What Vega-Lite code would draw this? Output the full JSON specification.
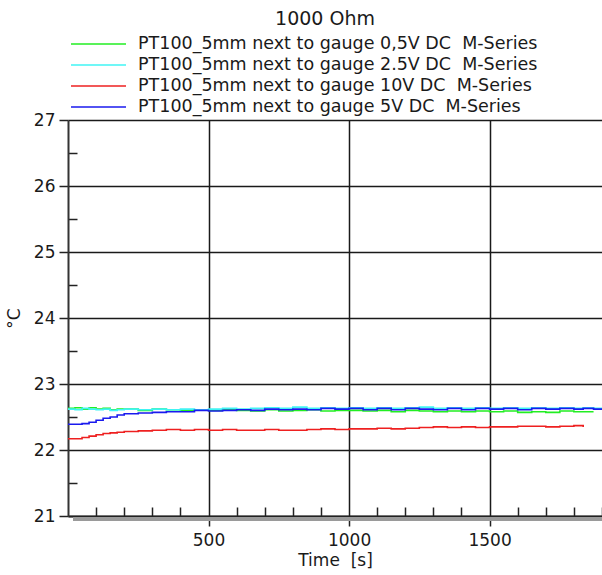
{
  "$schema": "https://vega.github.io/schema/vega-lite/v6.json",
  "width": 534,
  "height": 396,
  "autosize": "none",
  "padding": {"left": 68, "top": 120, "right": 0, "bottom": 59},
  "background": "white",
  "title": {"text": "1000 Ohm", "font": "DejaVu Sans", "fontSize": 19, "fontWeight": "normal", "color": "#1a1a1a", "anchor": "middle", "offset": 7, "dx": -10},
  "config": {
    "view": {"stroke": null},
    "font": "DejaVu Sans"
  },
  "data": {
    "values": [
      {"t": 0, "g": 22.63, "c": 22.62, "r": 22.17, "b": 22.39},
      {"t": 25, "g": 22.64, "c": 22.61, "r": 22.17, "b": 22.39},
      {"t": 50, "g": 22.62, "c": 22.63, "r": 22.19, "b": 22.40},
      {"t": 75, "g": 22.64, "c": 22.62, "r": 22.21, "b": 22.42},
      {"t": 100, "g": 22.62, "c": 22.61, "r": 22.23, "b": 22.45},
      {"t": 125, "g": 22.63, "c": 22.62, "r": 22.25, "b": 22.48},
      {"t": 150, "g": 22.61, "c": 22.60, "r": 22.26, "b": 22.50},
      {"t": 175, "g": 22.62, "c": 22.61, "r": 22.27, "b": 22.53},
      {"t": 200, "g": 22.62, "c": 22.62, "r": 22.28, "b": 22.55},
      {"t": 250, "g": 22.60, "c": 22.61, "r": 22.29, "b": 22.56},
      {"t": 300, "g": 22.62, "c": 22.62, "r": 22.30, "b": 22.57},
      {"t": 350, "g": 22.61, "c": 22.61, "r": 22.31, "b": 22.58},
      {"t": 400, "g": 22.60, "c": 22.62, "r": 22.30, "b": 22.58},
      {"t": 450, "g": 22.61, "c": 22.61, "r": 22.31, "b": 22.60},
      {"t": 500, "g": 22.60, "c": 22.62, "r": 22.30, "b": 22.59},
      {"t": 550, "g": 22.61, "c": 22.63, "r": 22.31, "b": 22.60},
      {"t": 600, "g": 22.60, "c": 22.62, "r": 22.30, "b": 22.61},
      {"t": 650, "g": 22.59, "c": 22.63, "r": 22.30, "b": 22.60},
      {"t": 700, "g": 22.61, "c": 22.64, "r": 22.31, "b": 22.62},
      {"t": 750, "g": 22.59, "c": 22.63, "r": 22.30, "b": 22.61},
      {"t": 800, "g": 22.60, "c": 22.65, "r": 22.30, "b": 22.62},
      {"t": 850, "g": 22.61, "c": 22.63, "r": 22.31, "b": 22.61},
      {"t": 900, "g": 22.59, "c": 22.64, "r": 22.32, "b": 22.63},
      {"t": 950, "g": 22.60, "c": 22.63, "r": 22.31, "b": 22.62},
      {"t": 1000, "g": 22.60, "c": 22.64, "r": 22.32, "b": 22.63},
      {"t": 1050, "g": 22.59, "c": 22.63, "r": 22.32, "b": 22.61},
      {"t": 1100, "g": 22.60, "c": 22.64, "r": 22.33, "b": 22.63},
      {"t": 1150, "g": 22.58, "c": 22.63, "r": 22.32, "b": 22.61},
      {"t": 1200, "g": 22.60, "c": 22.64, "r": 22.33, "b": 22.63},
      {"t": 1250, "g": 22.59, "c": 22.65, "r": 22.34, "b": 22.62},
      {"t": 1300, "g": 22.58, "c": 22.63, "r": 22.35, "b": 22.61},
      {"t": 1350, "g": 22.59, "c": 22.64, "r": 22.34, "b": 22.63},
      {"t": 1400, "g": 22.58, "c": 22.63, "r": 22.35, "b": 22.61},
      {"t": 1450, "g": 22.59, "c": 22.64, "r": 22.34, "b": 22.63},
      {"t": 1500, "g": 22.58, "c": 22.63, "r": 22.35, "b": 22.62},
      {"t": 1550, "g": 22.59, "c": 22.64, "r": 22.35, "b": 22.63},
      {"t": 1600, "g": 22.57, "c": 22.63, "r": 22.36, "b": 22.61},
      {"t": 1650, "g": 22.58, "c": 22.64, "r": 22.36, "b": 22.63},
      {"t": 1700, "g": 22.57, "c": 22.63, "r": 22.35, "b": 22.62},
      {"t": 1750, "g": 22.59, "c": 22.64, "r": 22.36, "b": 22.63},
      {"t": 1800, "g": 22.58, "c": 22.63, "r": 22.37, "b": 22.62},
      {"t": 1833, "g": 22.58, "c": 22.64, "r": 22.35, "b": 22.63},
      {"t": 1870, "g": 22.58, "c": 22.63, "r": null, "b": 22.62},
      {"t": 1900, "g": null, "c": 22.64, "r": null, "b": 22.63}
    ]
  },
  "resolve": {"axis": {"x": "independent", "y": "independent"}},
  "layer": [
    {
      "mark": {"type": "rule", "color": "#9a9a9a", "strokeWidth": 4, "yOffset": 3},
      "encoding": {
        "x": {"datum": 18, "type": "quantitative", "scale": {"domain": [0, 1900], "nice": false, "zero": false},
          "axis": {"orient": "bottom", "values": [100, 200, 300, 400, 600, 700, 800, 900, 1100, 1200, 1300, 1400, 1600, 1700, 1800, 1900], "tickSize": -9, "tickColor": "#222", "tickWidth": 1.5, "labels": false, "domain": false, "grid": false, "title": null}},
        "x2": {"datum": 1900},
        "y": {"datum": 21, "type": "quantitative", "scale": {"domain": [21, 27], "nice": false, "zero": false},
          "axis": {"orient": "left", "values": [21.5, 22.5, 23.5, 24.5, 25.5, 26.5], "tickSize": -9, "tickColor": "#222", "tickWidth": 1.5, "labels": false, "domain": false, "grid": false, "title": null}}
      }
    },
    {
      "transform": [
        {"fold": ["g", "c", "r", "b"], "as": ["series", "value"]},
        {"filter": "datum.value != null"}
      ],
      "mark": {"type": "line", "strokeWidth": 1.6, "interpolate": "step-after"},
      "encoding": {
        "x": {"field": "t", "type": "quantitative", "scale": {"domain": [0, 1900], "nice": false, "zero": false},
          "axis": {"orient": "bottom", "values": [500, 1000, 1500], "format": "d", "tickSize": 10, "tickColor": "#222", "tickWidth": 1.5, "grid": true, "gridColor": "#1a1a1a", "gridWidth": 1.5, "domainColor": "#222", "domainWidth": 2, "labelFont": "DejaVu Sans", "labelFontSize": 17, "labelColor": "#1a1a1a", "labelPadding": 6, "title": "Time\u00a0 [s]", "titleFont": "DejaVu Sans", "titleFontSize": 17, "titleFontWeight": "normal", "titleColor": "#1a1a1a", "titlePadding": 4}},
        "y": {"field": "value", "type": "quantitative", "scale": {"domain": [21, 27], "nice": false, "zero": false},
          "axis": {"orient": "left", "values": [21, 22, 23, 24, 25, 26, 27], "tickSize": 9, "tickColor": "#222", "tickWidth": 1.5, "grid": true, "gridColor": "#1a1a1a", "gridWidth": 1.5, "domainColor": "#333", "domainWidth": 2, "labelFont": "DejaVu Sans", "labelFontSize": 17, "labelColor": "#1a1a1a", "labelPadding": 4, "title": "°C", "titleFont": "DejaVu Sans", "titleFontSize": 17, "titleFontWeight": "normal", "titleColor": "#1a1a1a", "titlePadding": 10}},
        "color": {"field": "series", "type": "nominal",
          "scale": {"domain": ["g", "c", "r", "b"], "range": ["#22ee22", "#40f4f4", "#ee2020", "#1a1aee"]},
          "legend": {"orient": "none", "legendX": 2, "legendY": -84, "direction": "vertical", "title": null, "symbolType": "stroke", "symbolSize": 3025, "symbolStrokeWidth": 1.5, "clipHeight": 16, "rowPadding": 3, "labelOffset": 11, "padding": 0, "labelFont": "DejaVu Sans", "labelFontSize": 17.5, "labelColor": "#1a1a1a", "labelLimit": 0,
            "labelExpr": "'PT100_5mm next to gauge ' + (datum.label == 'g' ? '0,5V' : datum.label == 'c' ? '2.5V' : datum.label == 'r' ? '10V' : '5V') + ' DC\u00a0 M-Series'"}}
      }
    }
  ]
}
